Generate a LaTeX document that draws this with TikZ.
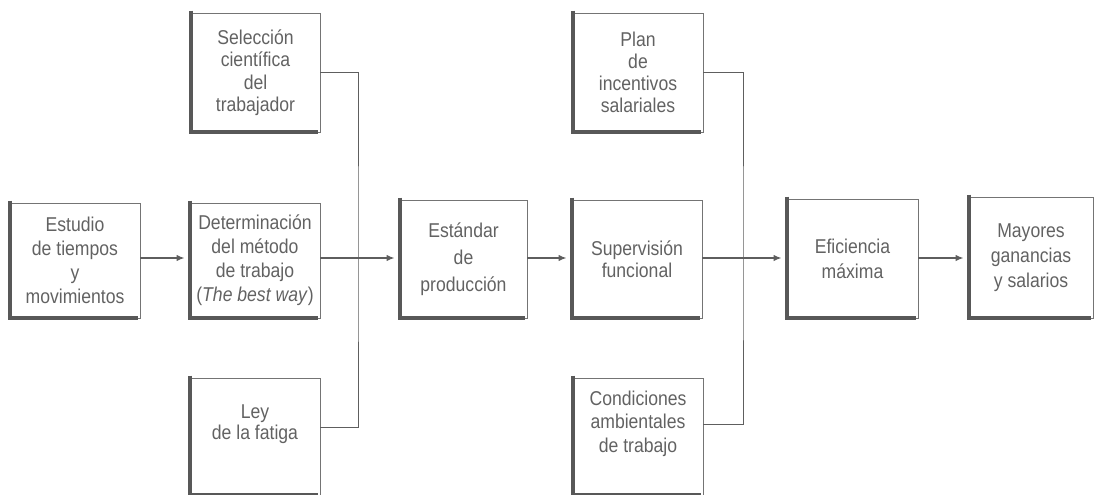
\documentclass[tikz,border=0pt]{standalone}
\usepackage{fontspec}
\setmainfont{Liberation Sans}[FakeStretch=0.88]
\usetikzlibrary{arrows.meta}
\definecolor{txtgray}{HTML}{626262}
\definecolor{edgethin}{HTML}{747474}
\definecolor{edgethick}{HTML}{585858}
\definecolor{linkgray}{HTML}{5E5E5E}
\begin{document}
\begin{tikzpicture}[x=1pt,y=-1pt,
  box/.style={draw=edgethin, line width=0.9pt, inner sep=0pt, align=center,
    text=txtgray, font=\fontsize{20pt}{24pt}\selectfont},
  heavyside/.style={draw=edgethick, line width=4pt},
  link/.style={draw=linkgray, line width=1pt},
  arr/.style={draw=linkgray, line width=1.4pt, -{Latex[length=8pt,width=6.5pt]}, shorten >=5pt},
  ]
\useasboundingbox (0,0) rectangle (1096,495);
\clip (0,0) rectangle (1096,495);

% boxes of the flow
\node[box, minimum width=130pt, minimum height=115pt] (est) at (75,260.5)
  {Estudio\\de tiempos\\y\\movimientos};
\node[box, minimum width=130pt, minimum height=115pt] (det) at (255,260.5)
  {Determinación\\del método\\de trabajo\\(\textit{The best way})};
\node[box, minimum width=129pt, minimum height=119pt,
  font=\fontsize{20pt}{22.5pt}\selectfont] (sel) at (255.5,72.5)
  {Selección\\científica\\del\\trabajador};
\node[box, minimum width=130pt, minimum height=117pt,
  font=\fontsize{20pt}{21pt}\selectfont] (ley) at (255,436.5)
  {Ley\\de la fatiga\\[8pt]};
\node[box, minimum width=127pt, minimum height=118pt,
  font=\fontsize{20pt}{27pt}\selectfont] (std) at (463.5,259)
  {Estándar\\de\\producción};
\node[box, minimum width=130pt, minimum height=118pt,
  font=\fontsize{20pt}{21.5pt}\selectfont] (sup) at (637,259)
  {Supervisión\\funcional};
\node[box, minimum width=130pt, minimum height=119pt,
  font=\fontsize{20pt}{22pt}\selectfont] (plan) at (638,72.5)
  {Plan\\de\\incentivos\\salariales};
\node[box, minimum width=130pt, minimum height=117pt,
  font=\fontsize{20pt}{23.5pt}\selectfont] (cond) at (638,436.5)
  {Condiciones\\ambientales\\de trabajo\\[6pt]};
\node[box, minimum width=131pt, minimum height=119pt,
  font=\fontsize{20pt}{25pt}\selectfont] (efi) at (852.5,258.5)
  {Eficiencia\\máxima};
\node[box, minimum width=124pt, minimum height=121pt,
  font=\fontsize{20pt}{25pt}\selectfont] (may) at (1031,257.5)
  {Mayores\\ganancias\\y salarios};

% heavy left and bottom edges
\foreach \n in {est,det,sel,ley,std,sup,plan,cond,efi,may}
  \draw[heavyside] ([yshift=2pt]\n.north west) -- (\n.south west) -- ([xshift=-2pt]\n.south east);

% junction points on the main line
\coordinate (j1) at (358,258);
\coordinate (j2) at (743,258);

% left group joins the main line
\draw[link] (sel.east) -| (j1) |- ([yshift=9.5pt]ley.east);
\draw[arr] (est.east |- j1) -- (det.west |- j1);
\draw[arr] (det.east |- j1) -- (std.west |- j1);
\draw[arr] (std.east |- j1) -- (sup.west |- j1);

% right group joins the main line
\draw[link] (plan.east) -| (j2) |- ([yshift=12.5pt]cond.east);
\draw[arr] (sup.east |- j2) -- (efi.west |- j2);
\draw[arr] (efi.east |- j2) -- (may.west |- j2);
\end{tikzpicture}
\end{document}
